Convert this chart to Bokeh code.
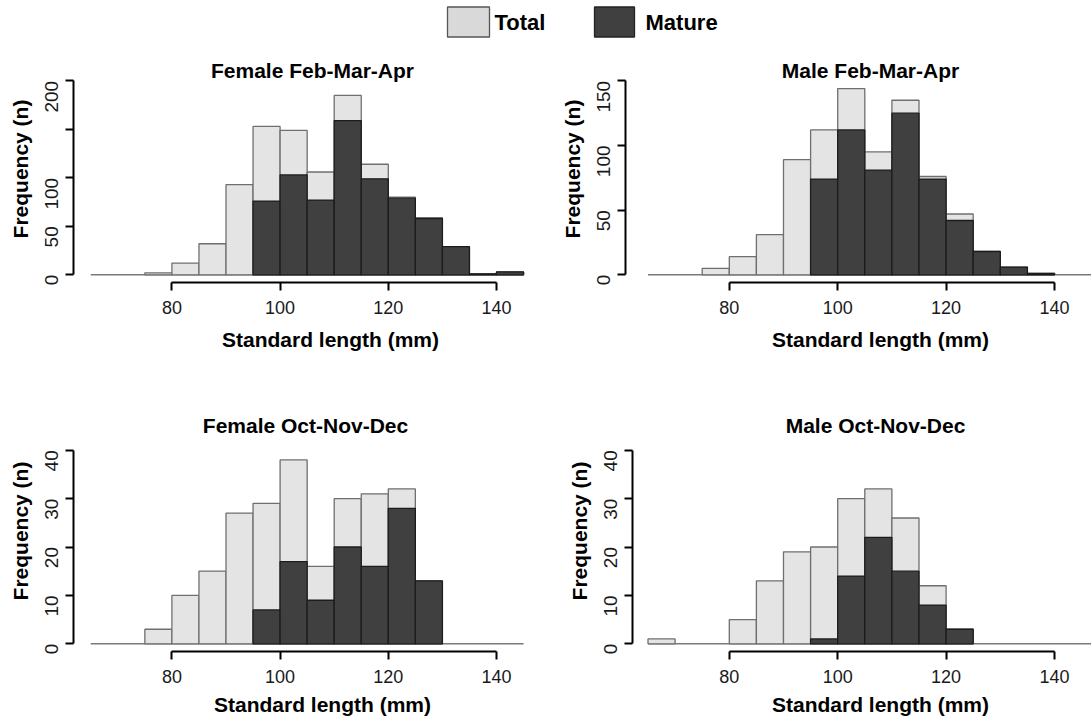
import math
from bokeh.plotting import figure
from bokeh.models import Range1d, FixedTicker, Title
from bokeh.layouts import column, row
from bokeh.embed import file_html
from bokeh.resources import INLINE
from bokeh.core.properties import value

# ---------------- data ----------------
bin_width = 5
# Female Feb-Mar-Apr
ff_left = [65, 70, 75, 80, 85, 90, 95, 100, 105, 110, 115, 120, 125, 130, 135, 140]
ff_total = [0, 0, 2, 12, 32, 93, 153, 149, 106, 185, 114, 80, 59, 29, 1, 3]
ff_mature = [0, 0, 0, 0, 0, 0, 76, 103, 77, 159, 99, 79, 58, 29, 1, 3]
# Male Feb-Mar-Apr
mf_left = [65, 70, 75, 80, 85, 90, 95, 100, 105, 110, 115, 120, 125, 130, 135, 140, 145]
mf_total = [0, 0, 5, 14, 31, 89, 112, 144, 95, 135, 76, 47, 18, 6, 1, 0, 0]
mf_mature = [0, 0, 0, 0, 0, 0, 74, 112, 81, 125, 74, 42, 18, 6, 1, 0, 0]
# Female Oct-Nov-Dec
fo_left = [65, 70, 75, 80, 85, 90, 95, 100, 105, 110, 115, 120, 125, 130, 135, 140]
fo_total = [0, 0, 3, 10, 15, 27, 29, 38, 16, 30, 31, 32, 13, 0, 0, 0]
fo_mature = [0, 0, 0, 0, 0, 0, 7, 17, 9, 20, 16, 28, 13, 0, 0, 0]
# Male Oct-Nov-Dec
mo_left = [65, 70, 75, 80, 85, 90, 95, 100, 105, 110, 115, 120, 125, 130, 135, 140, 145]
mo_total = [1, 0, 0, 5, 13, 19, 20, 30, 32, 26, 12, 3, 0, 0, 0, 0, 0]
mo_mature = [0, 0, 0, 0, 0, 0, 1, 14, 22, 15, 8, 3, 0, 0, 0, 0, 0]

titles = ["Female Feb-Mar-Apr", "Male Feb-Mar-Apr", "Female Oct-Nov-Dec", "Male Oct-Nov-Dec"]
y_ticks_top_left = [0, 50, 100, 150, 200]
y_ticks_top_right = [0, 50, 100, 150]
y_ticks_bottom = [0, 10, 20, 30, 40]
x_ticks = [80, 100, 120, 140]
xlab = "Standard length (mm)"
ylab = "Frequency (n)"
legend_labels = ["Total", "Mature"]

TOTAL_FILL = "#e4e4e4"
TOTAL_LINE = "#6f6f6f"
MAT_FILL = "#404040"
MAT_LINE = "#1c1c1c"
BOLD = "Liberation Sans"
XLAB_EM = 10.334     # width of xlab in em (Arial/Liberation bold metrics)
XLAB_SIZE = 21

# ---------------- layout geometry (absolute page px) ----------------
PANELS = {
    "p1": dict(fig=(0, 45, 545, 340), frame=(73, 55, 540, 281.7),
               xmap=((80, 171.4), (140, 496.0)), ymap=((0, 274.0), (200, 80.3)),
               title_px=(312, 70), xlab_cx=330, standoff=22, valign="top"),
    "p2": dict(fig=(545, 45, 546, 340), frame=(625, 55, 1091, 281.7),
               xmap=((80, 728.8), (140, 1054.0)), ymap=((0, 274.0), (150, 80.3)),
               title_px=(870, 70), xlab_cx=880, standoff=22, valign="top"),
    "p3": dict(fig=(0, 385, 545, 340), frame=(73, 410, 540, 650.7),
               xmap=((80, 171.4), (140, 496.0)), ymap=((0, 643.0), (40, 449.7)),
               title_px=(305, 425), xlab_cx=322, standoff=10, valign="bottom"),
    "p4": dict(fig=(545, 385, 546, 340), frame=(632, 410, 1091, 650.7),
               xmap=((80, 728.8), (140, 1054.0)), ymap=((0, 643.0), (40, 449.7)),
               title_px=(875, 425), xlab_cx=880, standoff=10, valign="bottom"),
}


def geometry(key):
    g = PANELS[key]
    fl, ft, w, h = g["fig"]
    L, T, R, B = g["frame"]
    (x1, x1p), (x2, x2p) = g["xmap"]
    (y1, y1p), (y2, y2p) = g["ymap"]
    sx = (x2p - x1p) / (x2 - x1)
    sy = (y1p - y2p) / (y2 - y1)
    xr = (x1 + (L - x1p) / sx, x1 + (R - x1p) / sx)
    yr = (y1 - (B - y1p) / sy, y1 + (y1p - T) / sy)
    borders = dict(min_border_left=round(L - fl), min_border_right=round(fl + w - R),
                   min_border_top=round(T - ft), min_border_bottom=round(ft + h - B))

    def to_data(px, py):
        return x1 + (px - x1p) / sx, y1 + (y1p - py) / sy
    return w, h, xr, yr, borders, to_data, L


def make_panel(key, left, total, mature, yticks, title, override=None):
    g = PANELS[key]
    w, h, xr, yr, borders, to_data, frame_left = geometry(key)
    p = figure(width=w, height=h, x_range=Range1d(*xr), y_range=Range1d(*yr),
               output_backend="svg", toolbar_location=None, **borders)
    p.outline_line_color = None
    p.xgrid.grid_line_color = None
    p.ygrid.grid_line_color = None
    p.background_fill_color = "white"
    p.border_fill_color = "white"

    right = [l + bin_width for l in left]
    p.segment(x0=[left[0]], y0=[0], x1=[right[-1]], y1=[0], line_color="#7a7a7a", line_width=1.5)
    tl = [l for l, t in zip(left, total) if t > 0]
    tt = [t for t in total if t > 0]
    p.quad(left=tl, right=[l + bin_width for l in tl], bottom=0, top=tt,
           fill_color=TOTAL_FILL, line_color=TOTAL_LINE, line_width=1.3)
    ml = [l for l, m in zip(left, mature) if m > 0]
    mm = [m for m in mature if m > 0]
    p.quad(left=ml, right=[l + bin_width for l in ml], bottom=0, top=mm,
           fill_color=MAT_FILL, line_color=MAT_LINE, line_width=1.3)

    xa = p.xaxis[0]
    xa.ticker = FixedTicker(ticks=x_ticks)
    xa.bounds = (x_ticks[0], x_ticks[-1])
    ya = p.yaxis[0]
    ya.ticker = FixedTicker(ticks=yticks)
    ya.bounds = (yticks[0], yticks[-1])
    if override:
        ya.major_label_overrides = override
    for ax in (xa, ya):
        ax.axis_line_width = 2
        ax.axis_line_color = "black"
        ax.major_tick_line_width = 2
        ax.major_tick_line_color = "black"
        ax.major_tick_out = 8
        ax.major_tick_in = 0
        ax.minor_tick_out = 0
        ax.minor_tick_in = 0
        ax.major_label_text_font = BOLD
        ax.major_label_text_color = "#1a1a1a"
    xa.major_label_text_font_size = "18px"
    ya.major_label_text_font_size = "19px"
    xa.major_label_standoff = 10
    ya.major_label_standoff = 14
    ya.major_label_orientation = math.pi / 2

    # y axis label (centred on the frame)
    ya.axis_label = ylab
    ya.axis_label_text_font = BOLD
    ya.axis_label_text_font_style = "bold"
    ya.axis_label_text_font_size = "21px"
    ya.axis_label_text_color = "black"
    ya.axis_label_standoff = 4

    # x label as a below-title, left aligned so that its centre lands at xlab_cx
    off = g["xlab_cx"] - XLAB_EM * XLAB_SIZE / 2 - frame_left
    t = Title(text=xlab, align="left", offset=off, vertical_align=g["valign"],
              standoff=g["standoff"], text_font=BOLD, text_font_style="bold",
              text_color="black", text_font_size=f"{XLAB_SIZE}px")
    p.add_layout(t, "below")

    tx, ty = to_data(*g["title_px"])
    p.text(x=[tx], y=[ty], text=[title], text_align="center", text_baseline="alphabetic",
           text_font=value(BOLD), text_font_style="bold", text_font_size="21px", text_color="black")
    return p


p1 = make_panel("p1", ff_left, ff_total, ff_mature, y_ticks_top_left, titles[0], override={150: ""})
p2 = make_panel("p2", mf_left, mf_total, mf_mature, y_ticks_top_right, titles[1])
p3 = make_panel("p3", fo_left, fo_total, fo_mature, y_ticks_bottom, titles[2])
p4 = make_panel("p4", mo_left, mo_total, mo_mature, y_ticks_bottom, titles[3])

# ---------------- legend strip ----------------
lg = figure(width=1091, height=45, x_range=Range1d(0, 1091), y_range=Range1d(45, 0),
            output_backend="svg", toolbar_location=None, x_axis_type=None, y_axis_type=None,
            min_border=0)
lg.outline_line_color = None
lg.xgrid.grid_line_color = None
lg.ygrid.grid_line_color = None
lg.quad(left=[447, 594], right=[489, 634], top=[6.5, 6.5], bottom=[36.5, 36.5],
        fill_color=["#d9d9d9", MAT_FILL], line_color=["#555555", "#222222"], line_width=1.3)
lg.text(x=[494, 645], y=[22, 22], text=legend_labels, text_baseline="middle", text_align="left",
        text_font=value(BOLD), text_font_style="bold", text_font_size="22px", text_color="black")

layout = column(lg, row(p1, p2), row(p3, p4))
open("out.html", "w").write(file_html(layout, INLINE))
